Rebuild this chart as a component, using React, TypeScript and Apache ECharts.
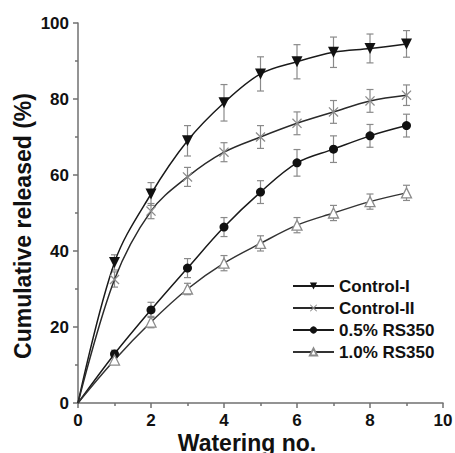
import React, { useEffect, useRef } from "react";
import * as echarts from "echarts";

const wateringNo = [1, 2, 3, 4, 5, 6, 7, 8, 9];
const controlI = [37, 55, 69, 79, 86.6, 89.8, 92.3, 93.3, 94.5];
const errControlI = [2, 3, 4, 4.8, 4.5, 4.5, 4, 3.8, 3.5];
const controlII = [32.5, 50.5, 59.5, 66, 70, 73.6, 76.6, 79.5, 81];
const errControlII = [2, 2, 2.5, 2.5, 3, 3, 3, 3, 2.7];
const rs05 = [12.9, 24.5, 35.5, 46.3, 55.5, 63.2, 66.8, 70.3, 73];
const errRs05 = [1, 2, 2.5, 2.5, 3, 3.5, 3.5, 3, 3];
const rs10 = [11.3, 21.3, 30, 36.8, 42, 46.8, 50, 53, 55.3];
const errRs10 = [1, 1.5, 1.5, 2, 2, 2, 2, 2, 2];
const seriesNames = ["Control-I", "Control-II", "0.5% RS350", "1.0% RS350"];
const xTitle = "Watering no.";
const yTitle = "Cumulative released (%)";

const FONT = "'Liberation Sans', Arial, sans-serif";
const X_PATH =
  "path://M0,0.9L0.9,0L5,4.1L9.1,0L10,0.9L5.9,5L10,9.1L9.1,10L5,5.9L0.9,10L0,9.1L4.1,5Z";

function lineData(vals: number[]) {
  const d: any[] = [{ value: [0, 0], symbol: "none" }];
  wateringNo.forEach((x, i) => d.push([x, vals[i]]));
  return d;
}

function errData(vals: number[], errs: number[]) {
  return wateringNo.map((x, i) => [x, vals[i] - errs[i], vals[i] + errs[i]]);
}

function errSeries(vals: number[], errs: number[]) {
  return {
    type: "custom",
    silent: true,
    z: 1,
    data: errData(vals, errs),
    renderItem: (params: any, api: any) => {
      const x = api.value(0);
      const lo = api.coord([x, api.value(1)]);
      const hi = api.coord([x, api.value(2)]);
      const w = 3.5;
      const style = { stroke: "#8a8a8a", lineWidth: 1.2 };
      return {
        type: "group",
        children: [
          { type: "line", shape: { x1: lo[0], y1: lo[1], x2: hi[0], y2: hi[1] }, style },
          { type: "line", shape: { x1: lo[0] - w, y1: lo[1], x2: lo[0] + w, y2: lo[1] }, style },
          { type: "line", shape: { x1: hi[0] - w, y1: hi[1], x2: hi[0] + w, y2: hi[1] }, style },
        ],
      };
    },
  };
}

export default function App() {
  const ref = useRef<HTMLDivElement>(null);
  useEffect(() => {
    if (!ref.current) return;
    const chart = echarts.init(ref.current, null, { renderer: "svg" });
    const axisLine = { show: true, lineStyle: { color: "#707070", width: 1.5 } };
    const titleStyle = { fontFamily: FONT, fontWeight: "bold", fontSize: 23, fill: "#111" };
    chart.setOption({
      animation: false,
      backgroundColor: "#ffffff",
      grid: { left: 78, right: 12, top: 23, bottom: 50, outerBoundsMode: "none", containLabel: false },
      graphic: [
        {
          type: "text",
          x: 247,
          y: 431,
          style: { ...titleStyle, text: xTitle, align: "center", verticalAlign: "top" },
        },
        {
          type: "text",
          x: 23,
          y: 226,
          rotation: Math.PI / 2,
          style: { ...titleStyle, text: yTitle, align: "center", verticalAlign: "middle" },
        },
      ],
      legend: {
        orient: "vertical",
        left: 287,
        top: 272,
        itemWidth: 41,
        itemHeight: 9,
        itemGap: 4,
        data: seriesNames,
        textStyle: {
          fontFamily: FONT,
          fontWeight: "bold",
          fontSize: 17,
          color: "#111",
          lineHeight: 18,
        },
      },
      xAxis: {
        type: "value",
        min: 0,
        max: 10,
        interval: 2,
        axisLine,
        axisTick: { show: true, length: 5, lineStyle: { color: "#707070", width: 1.5 } },
        minorTick: { show: true, splitNumber: 2, length: 3, lineStyle: { color: "#707070", width: 1.5 } },
        splitLine: { show: false },
        axisLabel: { fontFamily: FONT, fontWeight: "bold", fontSize: 17, color: "#111", margin: 9 },
      },
      yAxis: {
        type: "value",
        min: 0,
        max: 100,
        interval: 20,
        axisLine,
        axisTick: { show: true, length: 5, lineStyle: { color: "#707070", width: 1.5 } },
        minorTick: { show: true, splitNumber: 2, length: 3, lineStyle: { color: "#707070", width: 1.5 } },
        splitLine: { show: false },
        axisLabel: { fontFamily: FONT, fontWeight: "bold", fontSize: 17, color: "#111", margin: 9 },
      },
      series: [
        errSeries(controlI, errControlI),
        errSeries(controlII, errControlII),
        errSeries(rs05, errRs05),
        errSeries(rs10, errRs10),
        {
          name: seriesNames[0],
          type: "line",
          smooth: 0.35,
          z: 3,
          data: lineData(controlI),
          symbol: "triangle",
          symbolRotate: 180,
          symbolSize: 11,
          lineStyle: { color: "#1a1a1a", width: 1.5 },
          itemStyle: { color: "#111" },
        },
        {
          name: seriesNames[1],
          type: "line",
          smooth: 0.35,
          z: 3,
          data: lineData(controlII),
          symbol: X_PATH,
          symbolSize: 10,
          lineStyle: { color: "#2a2a2a", width: 1.5 },
          itemStyle: { color: "#8c8c8c" },
        },
        {
          name: seriesNames[2],
          type: "line",
          smooth: 0.35,
          z: 3,
          data: lineData(rs05),
          symbol: "circle",
          symbolSize: 9,
          lineStyle: { color: "#1a1a1a", width: 1.5 },
          itemStyle: { color: "#111" },
        },
        {
          name: seriesNames[3],
          type: "line",
          smooth: 0.35,
          z: 3,
          data: lineData(rs10),
          symbol: "triangle",
          symbolSize: 10,
          lineStyle: { color: "#333", width: 1.5 },
          itemStyle: { color: "#fff", borderColor: "#8c8c8c", borderWidth: 1.3 },
        },
      ],
    });
    return () => chart.dispose();
  }, []);
  return (
    <div
      ref={ref}
      style={{ position: "fixed", left: 0, top: 0, width: 455, height: 453, background: "#fff" }}
    />
  );
}
